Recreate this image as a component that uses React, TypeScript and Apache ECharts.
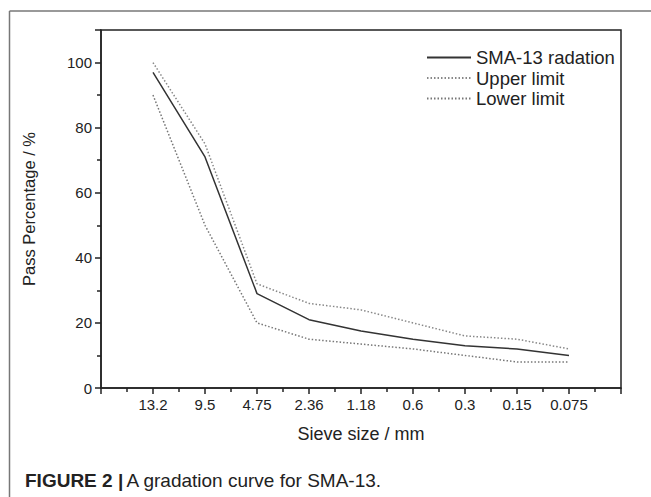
import React, { useEffect, useRef } from "react";
import * as echarts from "echarts";

const sieveSizes = ["13.2", "9.5", "4.75", "2.36", "1.18", "0.6", "0.3", "0.15", "0.075"];
const gradation = [97, 71, 29, 21, 17.5, 15, 13, 12, 10];
const upperLimit = [100, 75, 32, 26, 24, 20, 16, 15, 12];
const lowerLimit = [90, 50, 20, 15, 13.5, 12, 10, 8, 8];
const yTicks = [0, 20, 40, 60, 80, 100];

const FONT = "'Liberation Sans', Arial, Helvetica, sans-serif";

const toPoints = (vals: number[]) => vals.map((v, i) => [i + 1, v]);

export default function App() {
  const ref = useRef<HTMLDivElement>(null);
  useEffect(() => {
    if (!ref.current) return;
    const chart = echarts.init(ref.current, null, { renderer: "svg" });
    const axisColor = "#222";
    chart.setOption({
      animation: false,
      backgroundColor: "#fff",
      textStyle: { fontFamily: FONT },
      grid: {
        left: 101,
        right: 30,
        top: 30,
        bottom: 109,
        show: true,
        borderColor: axisColor,
        borderWidth: 1.5,
      },
      legend: {
        orient: "vertical",
        left: 421,
        top: 43,
        itemWidth: 44,
        itemHeight: 14,
        itemGap: 1.5,
        itemStyle: { opacity: 0 },
        textStyle: { fontSize: 18.5, color: "#222", fontFamily: FONT },
        data: ["SMA-13 radation", "Upper limit", "Lower limit"],
      },
      xAxis: {
        type: "value",
        min: 0,
        max: sieveSizes.length + 1,
        interval: 1,
        name: "Sieve size / mm",
        nameLocation: "middle",
        nameGap: 37,
        nameTextStyle: { fontSize: 18, color: "#222", fontFamily: FONT },
        axisLine: { show: true, onZero: false, lineStyle: { color: axisColor, width: 1.5 } },
        axisTick: { show: true, inside: false, length: 6, lineStyle: { color: axisColor, width: 1.5 } },
        minorTick: { show: true, splitNumber: 2, length: 4, lineStyle: { color: axisColor, width: 1.5 } },
        axisLabel: {
          fontSize: 15,
          color: "#222",
          margin: 9,
          fontFamily: FONT,
          formatter: (v: number) => sieveSizes[v - 1] ?? "",
        },
        splitLine: { show: false },
      },
      yAxis: {
        type: "value",
        min: 0,
        max: 110,
        interval: 20,
        name: "Pass Percentage / %",
        nameLocation: "middle",
        nameGap: 64,
        nameTextStyle: { fontSize: 16.5, color: "#222", fontFamily: FONT },
        axisLine: { show: true, lineStyle: { color: axisColor, width: 1.5 } },
        axisTick: { show: true, inside: false, length: 6, lineStyle: { color: axisColor, width: 1.5 } },
        minorTick: { show: true, splitNumber: 2, length: 4, lineStyle: { color: axisColor, width: 1.5 } },
        axisLabel: {
          fontSize: 15,
          color: "#222",
          margin: 9,
          fontFamily: FONT,
          formatter: (v: number) => (yTicks.includes(v) ? String(v) : ""),
        },
        splitLine: { show: false },
      },
      series: [
        {
          name: "SMA-13 radation",
          type: "line",
          symbol: "none",
          data: toPoints(gradation),
          lineStyle: { color: "#333", width: 1.5 },
          itemStyle: { color: "#333" },
        },
        {
          name: "Upper limit",
          type: "line",
          symbol: "none",
          data: toPoints(upperLimit),
          lineStyle: { color: "#888", width: 1.5, type: [1.5, 2] },
          itemStyle: { color: "#888" },
        },
        {
          name: "Lower limit",
          type: "line",
          symbol: "none",
          data: toPoints(lowerLimit),
          lineStyle: { color: "#777", width: 1.5, type: [1.5, 2] },
          itemStyle: { color: "#777" },
        },
      ],
      graphic: [
        {
          type: "line",
          shape: { x1: 9.5, y1: 11, x2: 651, y2: 11 },
          style: { stroke: "#777", lineWidth: 1.5 },
          silent: true,
        },
        {
          type: "line",
          shape: { x1: 9.5, y1: 11, x2: 9.5, y2: 497 },
          style: { stroke: "#777", lineWidth: 1.5 },
          silent: true,
        },
        {
          type: "text",
          left: 25,
          top: 471,
          style: {
            text: "{b|FIGURE 2 |} {r|A gradation curve for SMA-13.}",
            rich: {
              b: { fontWeight: "bold", fontSize: 19, fill: "#222", fontFamily: FONT },
              r: { fontSize: 19, fill: "#222", fontFamily: FONT },
            },
          },
        },
      ],
    });
    return () => chart.dispose();
  }, []);
  return (
    <div
      ref={ref}
      style={{ position: "fixed", left: 0, top: 0, width: 651, height: 497 }}
    />
  );
}
